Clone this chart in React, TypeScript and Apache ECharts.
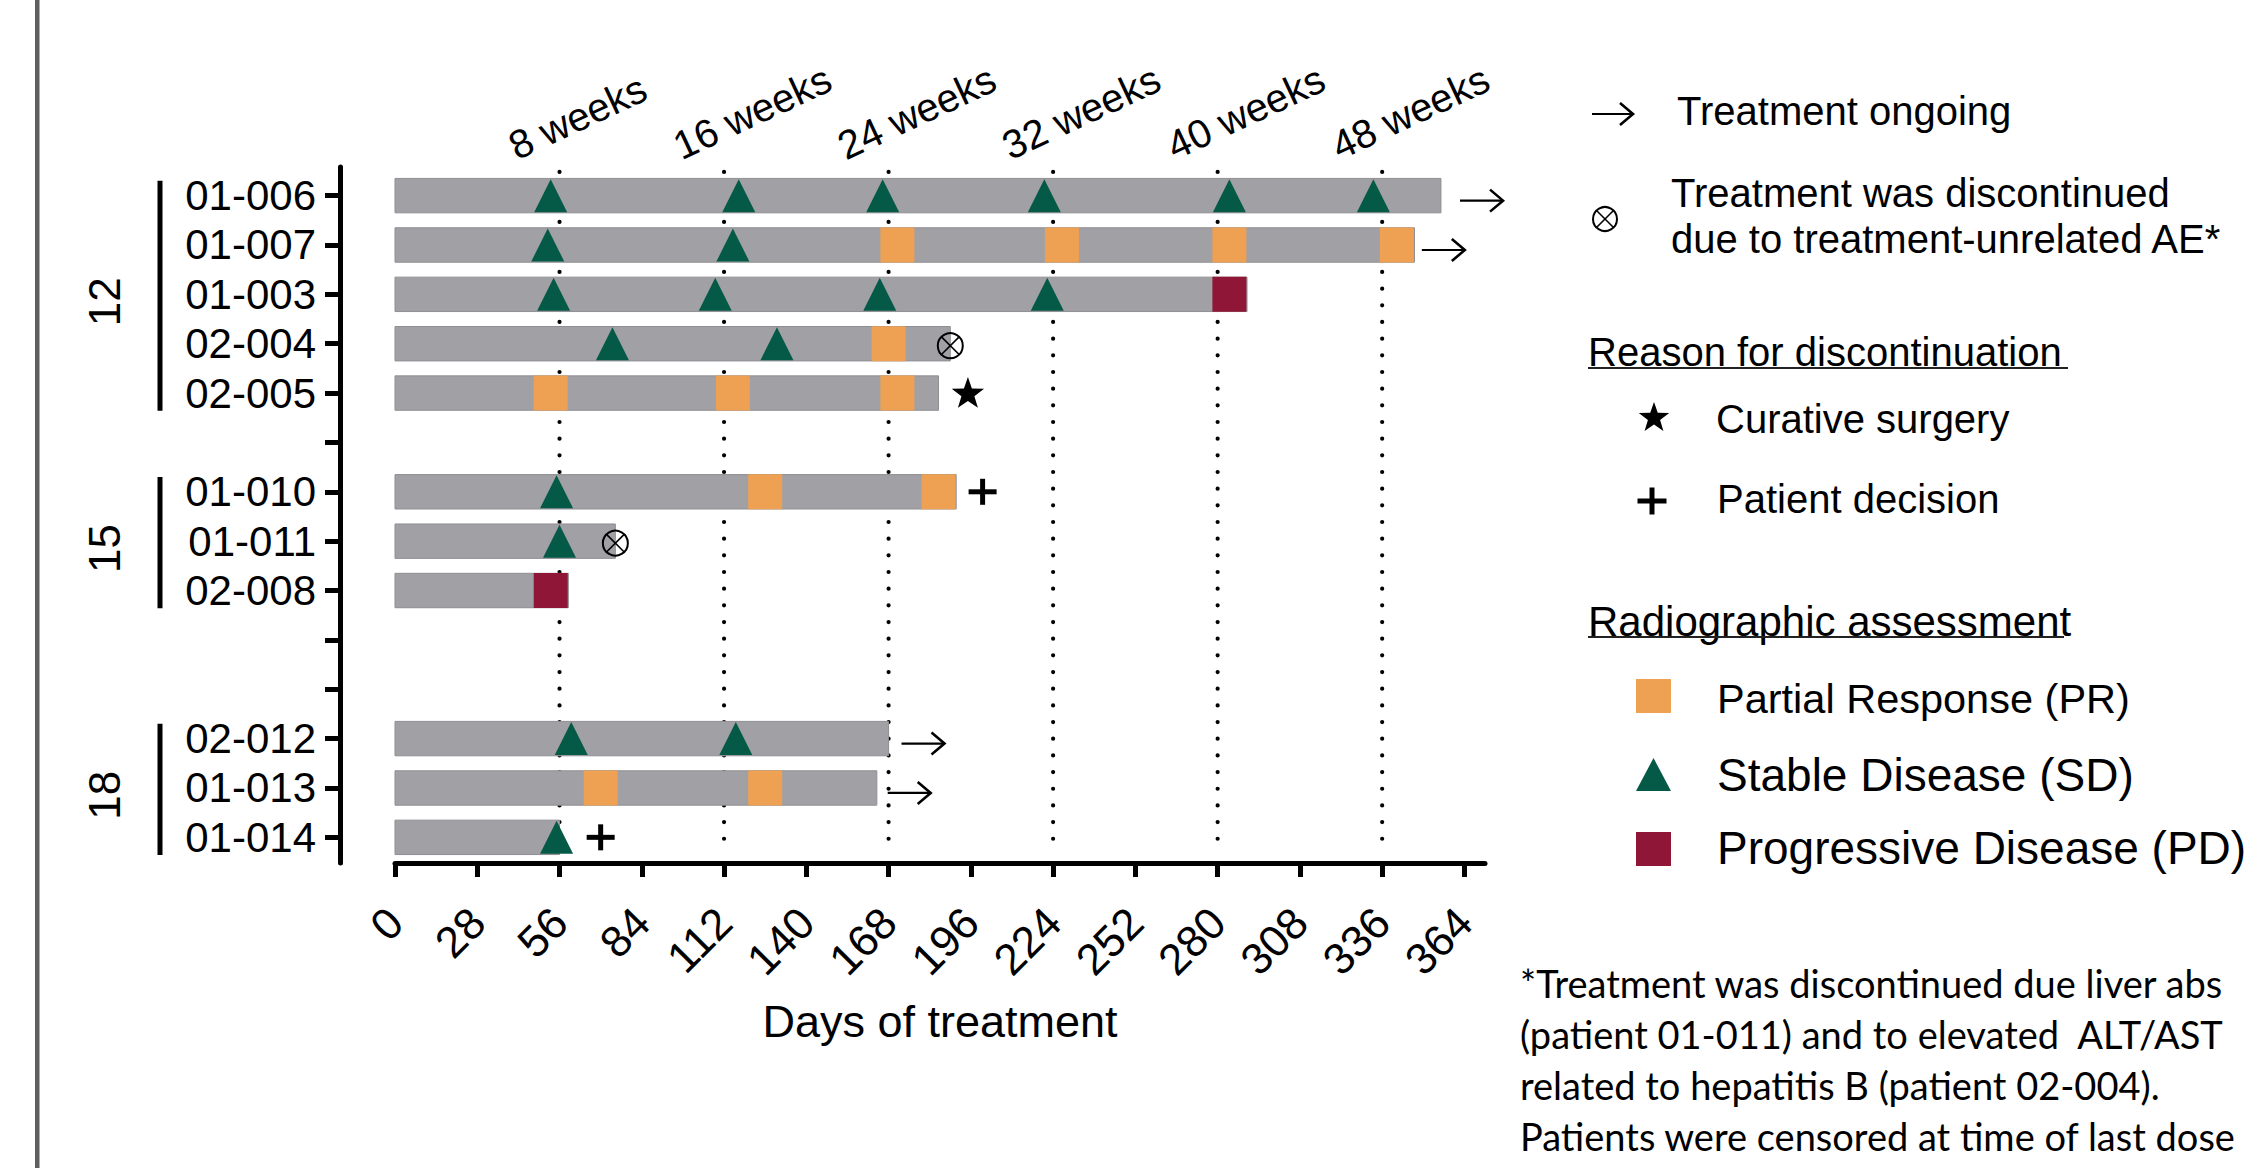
import React, { useEffect, useRef } from 'react';
import * as echarts from 'echarts';

// ---- data ----
// Row slots on the y axis (blank strings are spacer rows between dose groups)
const slotLabels = ['01-006', '01-007', '01-003', '02-004', '02-005', '', '01-010', '01-011', '02-008', '', '', '02-012', '01-013', '01-014'];
const patientIds = ['01-006', '01-007', '01-003', '02-004', '02-005', '01-010', '01-011', '02-008', '02-012', '01-013', '01-014'];
const treatmentDays = [356, 347, 290, 189, 185, 191, 75, 59, 168, 164, 56];

const groupLabels = ['12', '15', '18'];
const groupFirst = ['01-006', '01-010', '02-012'];
const groupLast = ['02-005', '02-008', '01-014'];

const dayTicks = [0, 28, 56, 84, 112, 140, 168, 196, 224, 252, 280, 308, 336, 364];
const weekDays = [56, 112, 168, 224, 280, 336];
const weekLabels = ['8 weeks', '16 weeks', '24 weeks', '32 weeks', '40 weeks', '48 weeks'];

// Radiographic assessments: [patient, day]
const partialResponse: [string, number][] = [
  ['01-007', 171], ['01-007', 227], ['01-007', 284], ['01-007', 341],
  ['02-004', 168],
  ['02-005', 53], ['02-005', 115], ['02-005', 171],
  ['01-010', 126], ['01-010', 185],
  ['01-013', 70], ['01-013', 126],
];
const stableDisease: [string, number][] = [
  ['01-006', 53], ['01-006', 117], ['01-006', 166], ['01-006', 221], ['01-006', 284], ['01-006', 333],
  ['01-007', 52], ['01-007', 115],
  ['01-003', 54], ['01-003', 109], ['01-003', 165], ['01-003', 222],
  ['02-004', 74], ['02-004', 130],
  ['01-010', 55],
  ['01-011', 56],
  ['02-012', 60], ['02-012', 116],
  ['01-014', 55],
];
const progressiveDisease: [string, number][] = [
  ['01-003', 284],
  ['02-008', 53],
];

// End-of-treatment markers: [patient, day]
const treatmentOngoing: [string, number][] = [['01-006', 362.5], ['01-007', 349.5], ['02-012', 172.4], ['01-013', 167.7]];
const discontinuedAE: [string, number][] = [['02-004', 189], ['01-011', 75]];
const curativeSurgery: [string, number][] = [['02-005', 195]];
const patientDecision: [string, number][] = [['01-010', 200], ['01-014', 70]];

const footnoteLines = [
  '*Treatment was discontinued due liver abs',
  '(patient 01-011) and to elevated  ALT/AST',
  'related to hepatitis B (patient 02-004).',
  'Patients were censored at time of last dose',
];

// ---- styles ----
const FONT = "'Liberation Sans', Arial, Helvetica, sans-serif";
const NOTE_FONT = "Lato, 'Open Sans', sans-serif";
const COLOR_PR = '#eea053';
const COLOR_SD = '#045a47';
const COLOR_PD = '#8f1636';
const COLOR_BAR = '#a1a0a5';

const slotOf = (id: string) => slotLabels.indexOf(id);

// ---- glyph builders (pixel space) ----
function arrowGlyph(x: number, y: number, len: number) {
  return [
    { type: 'line', shape: { x1: x, y1: y, x2: x + len - 1, y2: y }, style: { stroke: '#000', lineWidth: 2.2 } },
    {
      type: 'polyline',
      shape: { points: [[x + len - 13, y - 11], [x + len, y], [x + len - 13, y + 11]] },
      style: { stroke: '#000', lineWidth: 2.6, fill: 'none' },
    },
  ];
}

function otimesGlyph(x: number, y: number, r: number) {
  const d = r * 0.707;
  return [
    { type: 'circle', shape: { cx: x, cy: y, r }, style: { stroke: '#000', lineWidth: 2, fill: 'none' } },
    { type: 'line', shape: { x1: x - d, y1: y - d, x2: x + d, y2: y + d }, style: { stroke: '#000', lineWidth: 1.6 } },
    { type: 'line', shape: { x1: x - d, y1: y + d, x2: x + d, y2: y - d }, style: { stroke: '#000', lineWidth: 1.6 } },
  ];
}

function starGlyph(x: number, y: number, R: number) {
  const pts: number[][] = [];
  for (let i = 0; i < 10; i++) {
    const rad = i % 2 === 0 ? R : R * 0.4;
    const a = -Math.PI / 2 + (i * Math.PI) / 5;
    pts.push([x + rad * Math.cos(a), y + rad * Math.sin(a)]);
  }
  return [{ type: 'polygon', shape: { points: pts }, style: { fill: '#000' } }];
}

function plusGlyph(x: number, y: number, w: number, h: number, t: number) {
  return [
    { type: 'rect', shape: { x: x - w / 2, y: y - t / 2, width: w, height: t }, style: { fill: '#000' } },
    { type: 'rect', shape: { x: x - t / 2, y: y - h / 2, width: t, height: h }, style: { fill: '#000' } },
  ];
}

function legendText(x: number, y: number, text: string, size = 40, family = FONT) {
  return {
    type: 'text',
    x,
    y,
    style: {
      text,
      fontSize: size,
      fontFamily: family,
      fill: '#000',
      align: 'left',
      verticalAlign: 'middle',
      textAlign: 'left',
      textVerticalAlign: 'middle',
    },
  };
}

function buildOption() {
  const endMarkers = [
    ...treatmentOngoing.map(([id, d]) => [d, slotOf(id), 0]),
    ...discontinuedAE.map(([id, d]) => [d, slotOf(id), 1]),
    ...curativeSurgery.map(([id, d]) => [d, slotOf(id), 2]),
    ...patientDecision.map(([id, d]) => [d, slotOf(id), 3]),
  ];

  const legendElements: any[] = [
    // left page border
    { type: 'rect', shape: { x: 35, y: 0, width: 4.5, height: 1168 }, style: { fill: '#5f5f5f' } },
    ...arrowGlyph(1592, 114, 41),
    legendText(1677, 111, 'Treatment ongoing'),
    ...otimesGlyph(1605, 219, 12),
    legendText(1671, 193, 'Treatment was discontinued'),
    legendText(1671, 239, 'due to treatment-unrelated AE*'),
    legendText(1588, 352, 'Reason for discontinuation'),
    { type: 'line', shape: { x1: 1588, y1: 368, x2: 2068, y2: 368 }, style: { stroke: '#222', lineWidth: 2 } },
    ...starGlyph(1654, 418, 16),
    legendText(1716, 419, 'Curative surgery'),
    ...plusGlyph(1652, 501, 29, 27, 5),
    legendText(1717, 499, 'Patient decision'),
    legendText(1588, 621, 'Radiographic assessment', 42),
    { type: 'line', shape: { x1: 1588, y1: 637, x2: 2064, y2: 637 }, style: { stroke: '#222', lineWidth: 2 } },
    { type: 'rect', shape: { x: 1636, y: 679, width: 35, height: 34 }, style: { fill: COLOR_PR } },
    legendText(1717, 698, 'Partial Response (PR)', 41.5),
    { type: 'polygon', shape: { points: [[1653.5, 758], [1671, 791], [1636, 791]] }, style: { fill: COLOR_SD } },
    legendText(1717, 775, 'Stable Disease (SD)', 46),
    { type: 'rect', shape: { x: 1636, y: 832, width: 35, height: 34 }, style: { fill: COLOR_PD } },
    legendText(1717, 848, 'Progressive Disease (PD)', 46),
    ...footnoteLines.map((t, i) => legendText(1520, 983 + i * 51, t, 38, NOTE_FONT)),
  ];

  return {
    animation: false,
    backgroundColor: '#ffffff',
    grid: { left: 395, top: 167, width: 1090, height: 696 },
    xAxis: {
      type: 'value',
      min: 0,
      max: 371,
      position: 'bottom',
      axisLine: { show: true, onZero: false, lineStyle: { color: '#000', width: 5 } },
      axisTick: { show: true, customValues: dayTicks, length: 14, lineStyle: { color: '#000', width: 5 } },
      axisLabel: {
        customValues: dayTicks,
        rotate: 45,
        margin: 52,
        fontSize: 44,
        fontFamily: FONT,
        color: '#000',
      },
      splitLine: { show: false },
      name: 'Days of treatment',
      nameLocation: 'middle',
      nameGap: 136,
      nameTextStyle: { fontSize: 45, fontFamily: FONT, color: '#000' },
    },
    yAxis: {
      type: 'value',
      inverse: true,
      min: -0.58,
      max: 13.52,
      position: 'left',
      offset: 55,
      axisLine: { show: true, onZero: false, lineStyle: { color: '#000', width: 5 } },
      axisTick: { show: true, customValues: slotLabels.map((_, i) => i), length: 15, lineStyle: { color: '#000', width: 5 } },
      axisLabel: {
        customValues: slotLabels.map((_, i) => i),
        formatter: (v: number) => slotLabels[Math.round(v)] || '',
        margin: 24,
        fontSize: 42,
        fontFamily: FONT,
        color: '#000',
      },
      splitLine: { show: false },
    },
    graphic: { elements: legendElements },
    series: [
      // dotted week guides with rotated captions
      {
        type: 'custom',
        z: 1,
        clip: false,
        silent: true,
        data: weekDays.map((d, i) => [d, i]),
        encode: { x: 0 },
        renderItem: (params: any, api: any) => {
          const x = api.coord([api.value(0), 0])[0];
          const yTop = api.coord([0, -0.48])[1];
          const yBot = api.coord([0, 13.36])[1];
          const label = weekLabels[api.value(1)];
          return {
            type: 'group',
            children: [
              {
                type: 'line',
                shape: { x1: x, y1: yTop, x2: x, y2: yBot },
                style: { stroke: '#000', lineWidth: 4.2, lineDash: [0, 16.67], lineCap: 'round' },
              },
              {
                type: 'text',
                x: x - 40,
                y: yTop - 6,
                rotation: (25 * Math.PI) / 180,
                style: {
                  text: label,
                  fontSize: 40,
                  fontFamily: FONT,
                  fill: '#000',
                  align: 'left',
                  verticalAlign: 'bottom',
                },
              },
            ],
          };
        },
      },
      // treatment duration bars
      {
        type: 'custom',
        z: 2,
        silent: true,
        data: patientIds.map((id, i) => [treatmentDays[i], slotOf(id)]),
        encode: { x: 0, y: 1 },
        renderItem: (params: any, api: any) => {
          const slot = api.value(1);
          const end = api.coord([api.value(0), slot]);
          const start = api.coord([0, slot]);
          const h = api.size([0, 1])[1] * 0.697;
          return {
            type: 'rect',
            shape: { x: start[0], y: start[1] - h / 2, width: end[0] - start[0], height: h },
            style: { fill: COLOR_BAR, stroke: '#8f8e93', lineWidth: 1 },
          };
        },
      },
      {
        name: 'Partial Response (PR)',
        type: 'scatter',
        z: 3,
        symbol: 'rect',
        symbolSize: [34, 35],
        itemStyle: { color: COLOR_PR, opacity: 1 },
        data: partialResponse.map(([id, d]) => [d, slotOf(id)]),
      },
      {
        name: 'Stable Disease (SD)',
        type: 'scatter',
        z: 3,
        symbol: 'triangle',
        symbolSize: [33, 33],
        itemStyle: { color: COLOR_SD, opacity: 1 },
        data: stableDisease.map(([id, d]) => [d, slotOf(id)]),
      },
      {
        name: 'Progressive Disease (PD)',
        type: 'scatter',
        z: 3,
        symbol: 'rect',
        symbolSize: [34, 35],
        itemStyle: { color: COLOR_PD, opacity: 1 },
        data: progressiveDisease.map(([id, d]) => [d, slotOf(id)]),
      },
      // ongoing / discontinuation markers
      {
        type: 'custom',
        z: 4,
        clip: false,
        silent: true,
        data: endMarkers,
        encode: { x: 0, y: 1 },
        renderItem: (params: any, api: any) => {
          const [x, y] = api.coord([api.value(0), api.value(1)]);
          const kind = api.value(2);
          let children: any[] = [];
          if (kind === 0) children = arrowGlyph(x, y + 5, 43);
          else if (kind === 1) children = otimesGlyph(x, y + 2, 12.5);
          else if (kind === 2) children = starGlyph(x, y + 1, 17);
          else children = plusGlyph(x, y, 28, 26, 5);
          return { type: 'group', children };
        },
      },
      // dose-group brackets with rotated labels
      {
        type: 'custom',
        z: 4,
        clip: false,
        silent: true,
        data: groupLabels.map((_, i) => [slotOf(groupFirst[i]), slotOf(groupLast[i]), i]),
        encode: { y: [0, 1] },
        renderItem: (params: any, api: any) => {
          const first = api.value(0);
          const last = api.value(1);
          const x0 = api.coord([0, 0])[0];
          const y1 = api.coord([0, first - 0.3])[1];
          const y2 = api.coord([0, last + 0.36])[1];
          const yLabel = api.coord([0, (first + last) / 2 + 0.15])[1];
          return {
            type: 'group',
            children: [
              { type: 'line', shape: { x1: x0 - 235, y1, x2: x0 - 235, y2 }, style: { stroke: '#000', lineWidth: 5 } },
              {
                type: 'text',
                x: x0 - 291,
                y: yLabel,
                rotation: Math.PI / 2,
                style: {
                  text: groupLabels[api.value(2)],
                  fontSize: 44,
                  fontFamily: FONT,
                  fill: '#000',
                  align: 'center',
                  verticalAlign: 'middle',
                },
              },
            ],
          };
        },
      },
    ],
  };
}

export default function App() {
  const ref = useRef<HTMLDivElement>(null);
  useEffect(() => {
    if (!ref.current) return;
    const chart = echarts.init(ref.current, undefined, { renderer: 'svg' });
    chart.setOption(buildOption() as any);
    return () => chart.dispose();
  }, []);
  return (
    <div
      ref={ref}
      style={{ position: 'absolute', left: 0, top: 0, width: 2260, height: 1168, background: '#fff' }}
    />
  );
}
